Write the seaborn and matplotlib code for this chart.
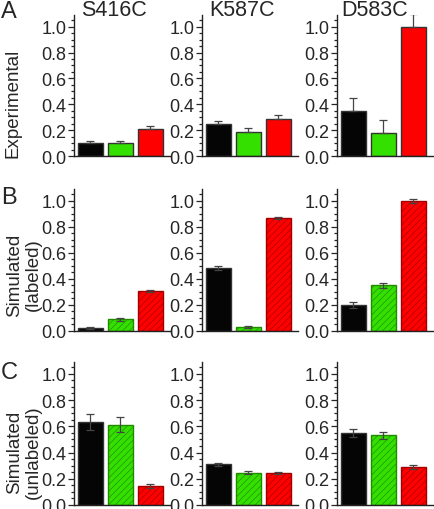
import matplotlib
matplotlib.use("Agg")
import matplotlib.pyplot as plt
import seaborn as sns

mutants = ["S416C", "K587C", "D583C"]
conditions = ["black", "green", "red"]
bar_colors = ["#050505", "#33e000", "#ff0000"]
hatch_edges = ["#050505", "#238a00", "#a00000"]
row_labels = ["Experimental", "Simulated\n(labeled)", "Simulated\n(unlabeled)"]
panel_letters = ["A", "B", "C"]

# rows: experimental, simulated labeled, simulated unlabeled; one list per mutant
exp_mean = [[0.10, 0.10, 0.205], [0.248, 0.188, 0.287], [0.346, 0.176, 1.00]]
exp_err = [[0.016, 0.016, 0.026], [0.026, 0.026, 0.028], [0.10, 0.10, 0.10]]
lab_mean = [[0.025, 0.09, 0.31], [0.485, 0.03, 0.867], [0.20, 0.35, 1.00]]
lab_err = [[0.008, 0.01, 0.007], [0.013, 0.01, 0.01], [0.02, 0.02, 0.015]]
unl_mean = [[0.633, 0.613, 0.145], [0.31, 0.246, 0.245], [0.55, 0.53, 0.29]]
unl_err = [[0.062, 0.06, 0.012], [0.01, 0.01, 0.01], [0.03, 0.028, 0.015]]

rows = [(exp_mean, exp_err), (lab_mean, lab_err), (unl_mean, unl_err)]
# which conditions are hatched in each row
hatched = [[False, False, False], [False, True, True], [False, True, True]]

sns.set_style("ticks")
plt.rcParams["font.family"] = ["Liberation Sans", "DejaVu Sans"]
plt.rcParams["hatch.linewidth"] = 0.45

fig = plt.figure(figsize=(4.35, 5.1), dpi=100)

lefts = [74, 202, 337]
tops = [16, 190, 363]
bottoms = [157, 332, 506]
W, H = 435, 510
ax_w = 96

for r, (means, errs) in enumerate(rows):
    for c, mut in enumerate(mutants):
        ax = fig.add_axes([lefts[c] / W, 1 - bottoms[r] / H, ax_w / W,
                           (bottoms[r] - tops[r]) / H])
        sns.barplot(x=conditions, y=means[c], hue=conditions, palette=bar_colors,
                    legend=False, width=0.83, saturation=1, edgecolor="#333333",
                    linewidth=1.0, ax=ax)
        for i, p in enumerate(ax.patches):
            if hatched[r][i]:
                p.set_hatch("/////")
                p.set_edgecolor(hatch_edges[i])
        if r == 0:
            yerr = [[0, 0, 0], errs[c]]
        else:
            yerr = errs[c]
        ax.errorbar(range(3), means[c], yerr=yerr, fmt="none", ecolor="#444444",
                    elinewidth=0.9, capsize=3, capthick=0.9, zorder=3)
        ax.set_xlim(-0.55, 2.65)
        ax.set_ylim(0, 1.09)
        ax.set_yticks([0, 0.2, 0.4, 0.6, 0.8, 1.0])
        ax.set_yticklabels(["0.0", "0.2", "0.4", "0.6", "0.8", "1.0"])
        ax.set_yticks([i * 0.05 for i in range(22)], minor=True)
        ax.set_xticks([])
        ax.set_xlabel("")
        ax.set_ylabel("")
        ax.tick_params(axis="y", which="major", length=4, width=0.9, labelsize=13, pad=1.5)
        ax.tick_params(axis="y", which="minor", length=2.5, width=0.9)
        for s in ["top", "right"]:
            ax.spines[s].set_visible(False)
        for s in ["left", "bottom"]:
            ax.spines[s].set_linewidth(1.0)
            ax.spines[s].set_color("#222222")

title_x = [114, 242, 375]
for c, mut in enumerate(mutants):
    fig.text(title_x[c] / W, 1 - 11 / H, mut, ha="center", va="center", fontsize=15.5)

letter_y = [12, 198, 373]
label_y = [103, 275, 452]
for r in range(3):
    fig.text(9 / W, 1 - letter_y[r] / H, panel_letters[r], ha="center", va="center",
             fontsize=17)
    lx = 13 if r == 0 else 24
    fig.text(lx / W, 1 - label_y[r] / H, row_labels[r], rotation=90, ha="center",
             va="center", fontsize=13.5, multialignment="center", linespacing=1.1)

fig.savefig("out.png", dpi=100)
